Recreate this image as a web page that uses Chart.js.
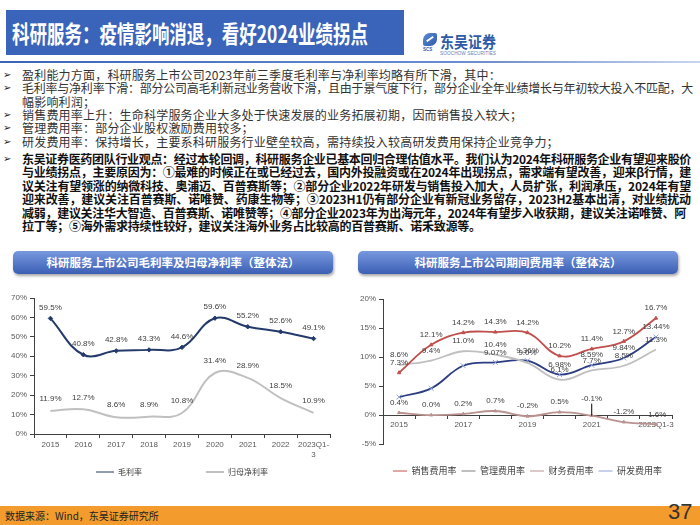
<!DOCTYPE html>
<html><head><meta charset="utf-8">
<script src="https://cdn.jsdelivr.net/npm/chart.js@4"></script>
<style>
html,body{margin:0;padding:0;background:#fff;}
#slide{position:relative;width:700px;height:525px;overflow:hidden;background:#fff;font-family:"Noto Sans CJK SC","Noto Sans",sans-serif;}
.abs{position:absolute;white-space:nowrap;}
#titlebar{left:6px;top:10px;width:398px;height:45px;background:#3a64b9;}
#title{left:12px;top:17px;height:32px;line-height:32px;color:#fff;font-weight:700;font-size:24px;transform-origin:0 50%;}
#rule{left:0;top:61px;width:700px;height:2px;background:linear-gradient(90deg,#3a64b9,#6f8fd0 70%,#c9d5ee);}
.ln{left:22px;height:14px;line-height:14px;font-size:12px;color:#333;letter-spacing:0.2px;}
.ln.b{font-weight:700;color:#111;}
.bul{left:3px;height:14px;line-height:14px;font-size:10px;color:#222;font-family:"DejaVu Sans",sans-serif;}
.hdr{position:absolute;top:251px;width:320px;height:23px;border-radius:5px;background:linear-gradient(#7898de,#3b5fb4);box-shadow:1px 2px 3px rgba(0,0,0,.35);color:#fff;font-weight:700;font-size:11.5px;line-height:23px;text-align:center;white-space:nowrap;}
#logoText{left:440px;top:31px;height:20px;line-height:20px;font-size:16px;font-weight:700;color:#2f5aa8;transform-origin:0 50%;}
#logoSub{left:440px;top:50px;height:6px;line-height:6px;font-size:5px;color:#6b84b8;font-family:"Liberation Sans",sans-serif;}
#logoIcon{left:423px;top:33px;width:14px;height:13px;border-radius:7px 2px 7px 2px;background:linear-gradient(135deg,#5b8bd6,#2f5aa8);}
#logoIcon:after{content:"";position:absolute;left:3px;top:5px;width:8px;height:2px;background:#fff;transform:rotate(-35deg);}
#logoScs{left:423px;top:47px;font-size:4.5px;line-height:5px;color:#2f5aa8;font-weight:700;font-family:"Liberation Sans",sans-serif;}
#footer{left:0;top:506px;width:700px;height:19px;background:#f39c2d;}
#src{left:5px;top:509px;height:14px;line-height:14px;font-size:10px;color:#222;}
#page{left:668px;top:500px;height:24px;line-height:24px;font-size:22px;color:#333;font-family:"Liberation Sans Narrow","Liberation Sans",sans-serif;}
canvas{position:absolute;}
</style>
</head>
<body>
<div id="slide">
  <div id="titlebar" class="abs"></div>
  <div id="title" class="abs">科研服务：疫情影响消退，看好2024业绩拐点</div>
  <div id="logoIcon" class="abs"></div>
  <div id="logoScs" class="abs">SCS</div>
  <div id="logoText" class="abs">东吴证券</div>
  <div id="logoSub" class="abs">SOOCHOW SECURITIES</div>
  <div id="rule" class="abs"></div>
  <div id="textBlock"></div>
  <div class="hdr" style="left:13px;">科研服务上市公司毛利率及归母净利率（整体法）</div>
  <div class="hdr" style="left:358px;">科研服务上市公司期间费用率（整体法）</div>
  <canvas id="c1" width="340" height="200" style="left:0;top:288px;"></canvas>
  <canvas id="c2" width="355" height="200" style="left:345px;top:288px;"></canvas>
  <div id="footer" class="abs"></div>
  <div id="src" class="abs">数据来源：Wind，东吴证券研究所</div>
  <div id="page" class="abs">37</div>
</div>
<script>
// ---------- chart data ----------
const marginYears = ['2015','2016','2017','2018','2019','2020','2021','2022',['2023Q1-','3']];
const grossMargin = [59.5, 40.8, 42.8, 43.3, 44.6, 59.6, 55.2, 52.6, 49.1];
const netMargin   = [11.9, 12.7, 8.6, 8.9, 10.8, 31.4, 28.9, 18.5, 10.9];

const expenseYears = ['2015','2016','2017','2018','2019','2020','2021','2022','2023Q1-3'];
const salesRate   = [7.3, 12.1, 14.2, 14.3, 14.2, 10.2, 11.4, 12.7, 16.7];
const adminRate   = [8.6, 9.4, 11.0, 10.4, 9.0, 6.1, 7.7, 8.5, 11.3];
const financeRate = [0.4, 0.0, 0.2, 0.7, -0.2, 0.5, -0.1, -1.2, -1.6];
const rdRate      = [3.1, 4.6, 8.5, 9.07, 9.36, 6.98, 8.59, 9.84, 13.44];

// ---------- slide text ----------
const textLines = [
  {t:'盈利能力方面，科研服务上市公司2023年前三季度毛利率与净利率均略有所下滑，其中：', y:75, bullet:true},
  {t:'毛利率与净利率下滑：部分公司高毛利新冠业务营收下滑，且由于景气度下行，部分企业全年业绩增长与年初较大投入不匹配，大', y:88, bullet:true, fit:693},
  {t:'幅影响利润；', y:101.5},
  {t:'销售费用率上升：生命科学服务企业大多处于快速发展的业务拓展初期，因而销售投入较大；', y:115, bullet:true},
  {t:'管理费用率：部分企业股权激励费用较多；', y:128, bullet:true},
  {t:'研发费用率：保持增长，主要系科研服务行业壁垒较高，需持续投入较高研发费用保持企业竞争力；', y:141.5, bullet:true},
  {t:'东吴证券医药团队行业观点：经过本轮回调，科研服务企业已基本回归合理估值水平。我们认为2024年科研服务企业有望迎来股价', y:158.5, bullet:true, bold:true, fit:691},
  {t:'与业绩拐点，主要原因为：①最难的时候正在或已经过去，国内外投融资或在2024年出现拐点，需求端有望改善，迎来β行情，建', y:172, bold:true, fit:691},
  {t:'议关注有望领涨的纳微科技、奥浦迈、百普赛斯等；②部分企业2022年研发与销售投入加大，人员扩张，利润承压，2024年有望', y:185.5, bold:true, fit:691},
  {t:'迎来改善，建议关注百普赛斯、诺唯赞、药康生物等；③2023H1仍有部分企业有新冠业务留存，2023H2基本出清，对业绩扰动', y:199, bold:true, fit:691},
  {t:'减弱，建议关注华大智造、百普赛斯、诺唯赞等；④部分企业2023年为出海元年，2024年有望步入收获期，建议关注诺唯赞、阿', y:212.5, bold:true, fit:686},
  {t:'拉丁等；⑤海外需求持续性较好，建议关注海外业务占比较高的百普赛斯、诺禾致源等。', y:226, bold:true}
];
const tb = document.getElementById('textBlock');
textLines.forEach(l=>{
  const d = document.createElement('div');
  d.className = 'abs ln' + (l.bold ? ' b' : '');
  d.style.top = (l.y - 7) + 'px';
  d.textContent = l.t;
  tb.appendChild(d);
  l.el = d;
  if (l.bullet) {
    const b = document.createElement('div');
    b.className = 'abs bul';
    b.style.top = (l.y - 7) + 'px';
    b.textContent = '➢';
    tb.appendChild(b);
  }
});
function fitAll(){
  let boldSp = [];
  textLines.forEach(l=>{
    if (!l.fit) return;
    l.el.style.letterSpacing = '0px';
    const w = l.el.getBoundingClientRect().width;
    const n = [...l.t].length;
    const sp = (l.fit - 22 - w) / n;
    l.el.style.letterSpacing = sp + 'px';
    if (l.bold) boldSp.push(sp);
  });
  if (boldSp.length) {
    const avg = boldSp.reduce((a,b)=>a+b,0)/boldSp.length;
    textLines.forEach(l=>{ if (l.bold && !l.fit) l.el.style.letterSpacing = avg + 'px'; });
  }
  const t = document.getElementById('title');
  t.style.transform = 'none';
  const tw = t.getBoundingClientRect().width;
  t.style.transform = 'scaleX(' + (356 / tw) + ')';
  const lg = document.getElementById('logoText');
  lg.style.transform = 'none';
  const lw = lg.getBoundingClientRect().width;
  lg.style.transform = 'scaleX(' + (56 / lw) + ')';
  const ls = document.getElementById('logoSub');
  ls.style.transform = 'none';
  const sw = ls.getBoundingClientRect().width;
  ls.style.transformOrigin = '0 50%';
  ls.style.transform = 'scaleX(' + (56 / sw) + ')';
}
fitAll();
if (document.fonts && document.fonts.ready) document.fonts.ready.then(fitAll);

// ---------- charts ----------
Chart.defaults.font.family = '"Liberation Sans", Arial, sans-serif';
Chart.defaults.color = '#595959';

const valueLabels = {
  id: 'valueLabels',
  afterDatasetsDraw(chart) {
    const ctx = chart.ctx;
    chart.data.datasets.forEach((ds, i) => {
      const lab = ds.valueLabel;
      if (!lab) return;
      const meta = chart.getDatasetMeta(i);
      ctx.save();
      ctx.font = '8px "Liberation Sans", Arial, sans-serif';
      ctx.fillStyle = '#404040';
      ctx.textAlign = 'center';
      ctx.textBaseline = 'middle';
      meta.data.forEach((pt, j) => {
        if (j < (lab.from || 0)) return;
        const v = ds.data[j];
        const lifted = lab.lifted && lab.lifted.includes(j);
        const dy = lifted ? lab.dy + 7 : lab.dy;
        if (lifted) {
          ctx.save();
          ctx.strokeStyle = '#000';
          ctx.lineWidth = 1;
          ctx.beginPath();
          ctx.moveTo(pt.x, pt.y - dy + 5);
          ctx.lineTo(pt.x, pt.y);
          ctx.stroke();
          ctx.restore();
        }
        ctx.fillText(v.toFixed(lab.decimals) + '%', pt.x + (lab.dx || 0), pt.y - dy);
      });
      ctx.restore();
    });
  }
};

const tickFont = {size: 8, family: '"Liberation Sans", Arial, sans-serif'};
const legendFont = {size: 8, family: '"Noto Sans CJK SC", sans-serif'};

new Chart(document.getElementById('c1'), {
  type: 'line',
  data: {
    labels: marginYears,
    datasets: [
      {label: '毛利率', data: grossMargin, borderColor: '#243a6b', backgroundColor: '#243a6b',
       borderWidth: 2, tension: 0.4, pointStyle: 'rectRot', pointRadius: 2.2, pointBorderWidth: 1,
       valueLabel: {decimals: 1, dy: 11}},
      {label: '归母净利率', data: netMargin, borderColor: '#c0c0c0', backgroundColor: '#c0c0c0',
       borderWidth: 2, tension: 0.4, pointRadius: 0,
       valueLabel: {decimals: 1, dy: 12}}
    ]
  },
  options: {
    responsive: false, animation: false, devicePixelRatio: 1,
    layout: {padding: {left: 0, right: 10, top: 10, bottom: 2}},
    plugins: {
      tooltip: {enabled: false},
      legend: {
        position: 'bottom', fullSize: false,
        labels: {
          usePointStyle: true, pointStyle: 'line', pointStyleWidth: 18, padding: 8,
          font: legendFont, color: '#404040',
          generateLabels(chart) {
            const items = Chart.defaults.plugins.legend.labels.generateLabels(chart);
            items[0].text += '\u2003'.repeat(7);
            return items;
          }
        }
      }
    },
    scales: {
      x: {
        offset: true,
        grid: {offset: true, drawOnChartArea: false, tickLength: 4, color: '#404040'},
        border: {color: '#404040', width: 1},
        ticks: {font: tickFont, color: '#595959', maxRotation: 0, autoSkip: false, padding: 2},
        afterFit(s) { s.height = 26; }
      },
      y: {
        min: 0, max: 70,
        ticks: {stepSize: 10, callback: v => v + '%', font: tickFont, color: '#595959', padding: 3},
        grid: {drawOnChartArea: false, tickLength: 4, color: '#404040'},
        border: {color: '#404040', width: 1},
        afterFit(s) { s.width = 34; }
      }
    }
  },
  plugins: [valueLabels]
});

new Chart(document.getElementById('c2'), {
  type: 'line',
  data: {
    labels: expenseYears,
    datasets: [
      {label: '销售费用率', data: salesRate, borderColor: '#c0504d', backgroundColor: '#c0504d',
       borderWidth: 1.8, tension: 0.4, pointStyle: 'triangle', pointRadius: 2, pointBorderWidth: 1,
       valueLabel: {decimals: 1, dy: 10}},
      {label: '管理费用率', data: adminRate, borderColor: '#bfbfbf', backgroundColor: '#bfbfbf',
       borderWidth: 1.8, tension: 0.4, pointRadius: 0,
       valueLabel: {decimals: 1, dy: 10}},
      {label: '财务费用率', data: financeRate, borderColor: '#b99290', backgroundColor: '#b99290',
       borderWidth: 1.8, tension: 0.4, pointStyle: 'triangle', pointRadius: 1.8, pointBorderWidth: 1,
       valueLabel: {decimals: 1, dy: 10, lifted: [6]}},
      {label: '研发费用率', data: rdRate, borderColor: '#2b3c82', backgroundColor: '#2b3c82',
       borderWidth: 1.8, tension: 0.4, pointStyle: 'crossRot', pointRadius: 3.5, pointBorderWidth: 1,
       pointBorderColor: '#8fa0d8',
       valueLabel: {decimals: 2, dy: 10, from: 3}}
    ]
  },
  options: {
    responsive: false, animation: false, devicePixelRatio: 1,
    layout: {padding: {left: 0, right: 28, top: 11, bottom: 2.5}},
    plugins: {
      tooltip: {enabled: false},
      legend: {
        position: 'bottom', fullSize: false,
        title: {display: true, text: ' ', padding: 0, font: {size: 14.5}},
        labels: {
          usePointStyle: true, pointStyle: 'line', pointStyleWidth: 14, padding: 5,
          font: {size: 9, family: '"Noto Sans CJK SC", sans-serif'}, color: '#404040'
        }
      }
    },
    scales: {
      x: {
        position: {y: 0}, offset: true,
        grid: {offset: true, drawOnChartArea: false, tickLength: 3, color: '#404040'},
        border: {color: '#404040', width: 1},
        ticks: {font: tickFont, color: '#595959', maxRotation: 0, autoSkip: false, padding: 2,
                callback: (v, i) => (i % 2 === 0 ? expenseYears[i] : '')}
      },
      y: {
        min: -5, max: 20,
        ticks: {stepSize: 5, callback: v => v + '%', font: tickFont, color: '#595959', padding: 3},
        grid: {drawOnChartArea: false, tickLength: 4, color: '#404040'},
        border: {color: '#404040', width: 1},
        afterFit(s) { s.width = 38; }
      }
    }
  },
  plugins: [valueLabels]
});
</script>
</body></html>
